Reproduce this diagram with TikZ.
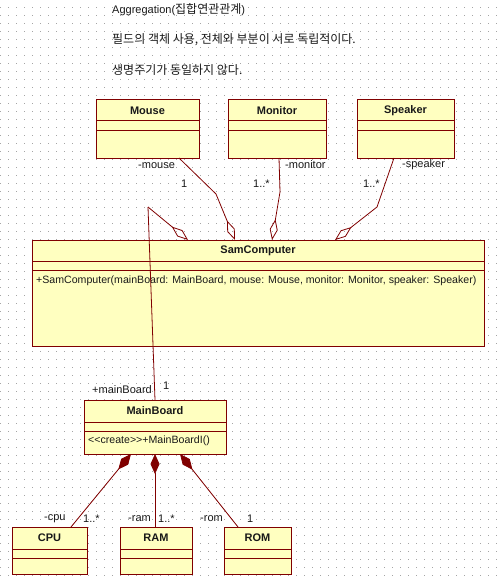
\documentclass[tikz,border=0pt]{standalone}
\usepackage{fontspec}
\setmainfont{Liberation Sans}
\newfontfamily\kr{Noto Sans CJK KR}
\usetikzlibrary{arrows.meta,calc}
\definecolor{umlred}{RGB}{128,0,0}
\definecolor{umlfill}{RGB}{255,255,192}
\definecolor{griddot}{RGB}{165,165,165}
\tikzset{
  classbox/.style={draw=umlred, fill=umlfill, line width=1pt, inner sep=0pt, outer sep=0pt, anchor=north west},
  sepline/.style={draw=umlred, line width=1pt},
  titletext/.style={font=\fontsize{11}{13}\selectfont\bfseries, inner sep=0pt, text=black!90},
  bodytext/.style={font=\fontsize{10.6}{13}\selectfont, inner sep=0pt, anchor=west, text=black!90},
  lbl/.style={font=\fontsize{11}{13}\selectfont, inner sep=0pt, anchor=west, text=black!90},
  toptext/.style={font=\fontsize{11}{13}\selectfont, inner sep=0pt, anchor=west, text=black!90},
  umlline/.style={draw=umlred, line width=0.8pt},
  aggr/.style={umlline, -{Diamond[open,length=21pt,width=8pt]}},
  comp/.style={umlline, {Diamond[length=20pt,width=9pt]}-, fill=umlred},
}
\newcommand\krt[1]{{\kr\fontsize{12}{13}\selectfont #1}}
\newcommand\umlclass[8]{%
  \node[classbox, minimum width={#4pt-#2pt}, minimum height={#5pt-#3pt}] (#1) at (#2,#3) {};
  \draw[sepline] (#2,#6) -- (#4,#6);
  \draw[sepline] (#2,#7) -- (#4,#7);
  \node[titletext] (#1-title) at ({(#2+#4)/2},{(#3+#6)/2}) {#8};
}
\begin{document}
\begin{tikzpicture}[x=1pt,y=-1pt]
\useasboundingbox (0,0) rectangle (503,583);
\fill[white] (0,0) rectangle (503,583);
\foreach \i in {0,...,62} {
  \foreach \j in {0,...,72} {
    \fill[griddot] (8*\i,8*\j+7) rectangle ++(1,1);
  }
}
% top texts
\node[toptext] (t1) at (112,10) {Aggregation(\krt{집합연관관계})};
\node[toptext] (t2) at (112,40) {\krt{필드의 객체 사용, 전체와 부분이 서로 독립적이다.}};
\node[toptext] (t3) at (112,70) {\krt{생명주기가 동일하지 않다.}};
% classes
\umlclass{mouse}{96}{100}{199}{158}{121}{130}{Mouse}
\umlclass{monitor}{228}{100}{326}{158}{121}{130}{Monitor}
\umlclass{speaker}{357}{100}{454}{158}{121}{130}{Speaker}
\umlclass{sam}{32}{240}{484}{346}{261}{270}{SamComputer}
\node[bodytext] (sam-op) at (36,281) {+SamComputer(mainBoard: MainBoard, mouse: Mouse, monitor: Monitor, speaker: Speaker)};
\umlclass{mainboard}{84}{400}{226}{454}{422}{431}{MainBoard}
\node[bodytext] (mb-op) at (88,441) {<{}<create>{}>+MainBoardI()};
\umlclass{cpu}{12}{527}{87}{574}{549}{558}{CPU}
\umlclass{ram}{120}{527}{192}{574}{549}{558}{RAM}
\umlclass{rom}{224}{527}{291}{574}{549}{558}{ROM}
% aggregations to SamComputer
\coordinate (mk) at (216,194);
\draw[aggr] ([xshift=83pt]mouse.south west) -- (mk) -- ([xshift=203pt]sam.north west);
\coordinate (nk) at (280,192);
\draw[aggr] ([xshift=51pt]monitor.south west) -- (nk) -- ([xshift=240pt]sam.north west);
\coordinate (sk) at (377,207);
\draw[aggr] ([xshift=37pt]speaker.south west) -- (sk) -- ([xshift=303pt]sam.north west);
\coordinate (mbk) at (148,207);
\draw[aggr] (mbk) -- ([xshift=156pt]sam.north west);
\draw[umlline] (mbk) -- ([xshift=71pt]mainboard.north west);
% compositions
\draw[comp] ([xshift=47pt]mainboard.south west) -- ([xshift=59pt]cpu.north west);
\draw[comp] ([xshift=71pt]mainboard.south west) -- ([xshift=35pt]ram.north west);
\draw[comp] ([xshift=96pt]mainboard.south west) -- ([xshift=14pt]rom.north west);
% labels
\node[lbl] (l-mouse) at (138,166) {-mouse};
\node[lbl] (m-mouse) at (181,184) {1};
\node[lbl] (l-monitor) at (285,165) {-monitor};
\node[lbl] (m-monitor) at (253,184) {1..*};
\node[lbl] (l-speaker) at (402,165) {-speaker};
\node[lbl] (m-speaker) at (363,184) {1..*};
\node[lbl] (l-mb) at (92,390) {+mainBoard};
\node[lbl] (m-mb) at (163,386) {1};
\node[lbl] (l-cpu) at (44,519) {-cpu};
\node[lbl] (m-cpu) at (83,519) {1..*};
\node[lbl] (l-ram) at (128,519) {-ram};
\node[lbl] (m-ram) at (158,519) {1..*};
\node[lbl] (l-rom) at (200,519) {-rom};
\node[lbl] (m-rom) at (247,519) {1};
\end{tikzpicture}
\end{document}
